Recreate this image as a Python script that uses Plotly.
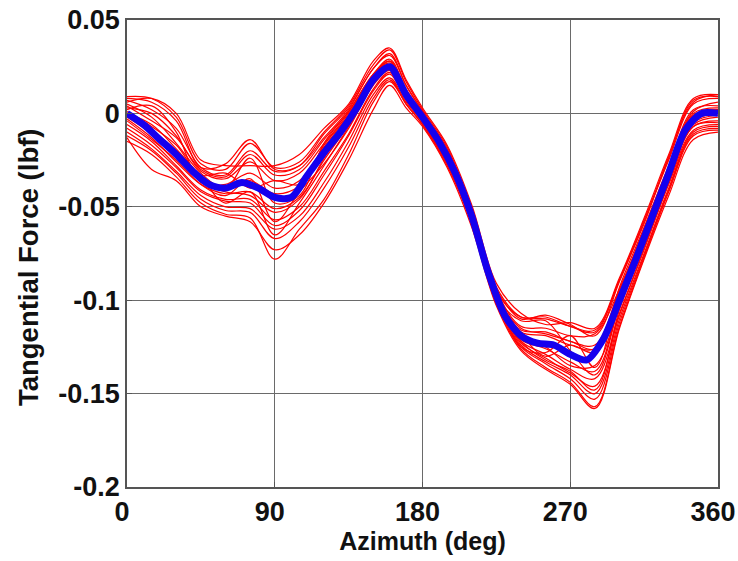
import plotly.graph_objects as go

# Azimuth grid for the individual (red) revolutions
az = [0, 15, 30, 45, 60, 75, 90, 105, 120, 135, 150, 160, 170, 180,
      195, 210, 225, 240, 255, 270, 285, 300, 315, 330, 345, 360]

# Individual revolutions, tangential force (lbf) x 1000
rev01 = [9, 8, -2, -27, -30, -16, -29, -26, -10, 4, 26, 34, 17, 2, -18, -51, -93, -109, -110, -114, -116, -89, -57, -24, 7, 9]
rev02 = [-15, -22, -34, -48, -54, -56, -78, -62, -46, -22, 6, 17, 5, -6, -28, -59, -102, -126, -136, -144, -157, -114, -77, -42, -12, -9]
rev03 = [5, -2, -16, -32, -40, -24, -48, -44, -16, 1, 21, 29, 13, 0, -21, -54, -95, -114, -115, -119, -118, -94, -62, -29, 2, 4]
rev04 = [-6, -15, -28, -41, -46, -46, -57, -50, -31, -11, 13, 22, 8, -4, -26, -57, -100, -122, -129, -137, -142, -107, -72, -37, -7, -4]
rev05 = [2, 4, -10, -37, -38, -32, -40, -36, -18, -1, 20, 27, 11, -1, -22, -53, -96, -117, -119, -124, -126, -95, -63, -30, -1, 2]
rev06 = [-3, -13, -26, -38, -43, -42, -51, -45, -25, -6, 16, 24, 9, -3, -25, -56, -98, -111, -111, -127, -140, -103, -68, -34, -6, -2]
rev07 = [8, 6, -4, -29, -27, -14, -30, -28, -13, 2, 24, 31, 15, 1, -19, -52, -94, -110, -108, -113, -119, -90, -58, -25, 5, 8]
rev08 = [-10, -19, -31, -44, -50, -51, -62, -55, -37, -15, 10, 19, 6, -5, -27, -58, -101, -124, -133, -140, -150, -110, -75, -40, -10, -7]
rev09 = [4, -4, -13, -30, -34, -22, -33, -30, -14, 1, 21, 28, 12, -1, -22, -54, -96, -125, -128, -119, -136, -93, -61, -28, 1, 6]
rev10 = [-1, -9, -20, -36, -40, -36, -43, -39, -22, -4, 18, 25, 10, -2, -23, -55, -97, -118, -130, -124, -128, -101, -67, -33, -4, 0]
rev11 = [-12, -20, -32, -46, -52, -53, -67, -58, -40, -18, 8, 18, 5, -6, -27, -59, -101, -125, -134, -142, -153, -112, -76, -41, -11, -8]
rev12 = [7, 2, -8, -29, -33, -20, -31, -28, -11, 3, 24, 32, 15, 1, -20, -52, -95, -109, -109, -114, -117, -89, -59, -23, 6, 10]
rev13 = [-4, -14, -25, -38, -44, -35, -58, -42, -27, -8, 15, 23, 9, -3, -24, -56, -98, -121, -126, -133, -138, -102, -69, -35, -7, -5]
rev14 = [1, -7, -17, -33, -32, -40, -36, -38, -17, -1, 19, 26, 11, -2, -23, -55, -97, -115, -118, -122, -126, -96, -64, -31, -1, 1]
rev15 = [-8, -17, -29, -42, -47, -48, -60, -52, -33, -12, 12, 21, 7, -4, -26, -57, -100, -123, -131, -139, -146, -108, -73, -38, -9, -6]
rev16 = [3, 0, -12, -31, -35, -26, -36, -32, -16, 0, 20, 28, 12, -1, -21, -54, -96, -116, -117, -122, -124, -94, -63, -29, 0, 3]
rev17 = [-13, -30, -36, -50, -55, -58, -73, -65, -48, -25, 2, 15, 3, -7, -29, -61, -103, -127, -137, -145, -158, -115, -78, -44, -14, -10]
rev18 = [6, 8, 0, -25, -28, -28, -28, -22, -8, 5, 28, 35, 18, 3, -17, -49, -91, -107, -113, -112, -115, -88, -56, -22, 8, 10]
rev19 = [-2, -11, -23, -36, -42, -44, -53, -46, -24, -5, 17, 24, 9, -3, -24, -56, -98, -120, -125, -135, -135, -102, -67, -33, -5, -1]
rev20 = [0, -6, -19, -34, -48, -42, -65, -48, -28, -7, 16, 24, 10, -2, -23, -55, -97, -122, -132, -138, -148, -105, -70, -34, -4, 0]
revs = [rev01, rev02, rev03, rev04, rev05, rev06, rev07, rev08, rev09, rev10,
        rev11, rev12, rev13, rev14, rev15, rev16, rev17, rev18, rev19, rev20]

# Mean (blue) curve
az_mean = [0, 10, 20, 30, 40, 50, 60, 70, 80, 90, 100, 110, 120, 130, 140, 150,
           160, 170, 180, 190, 200, 210, 220, 230, 240, 250, 260, 270, 280, 290,
           300, 310, 320, 330, 340, 350, 360]
mean_force = [0.000, -0.006, -0.014, -0.022, -0.031, -0.038, -0.040, -0.037, -0.040,
              -0.045, -0.045, -0.033, -0.021, -0.010, 0.003, 0.018, 0.025, 0.010,
              -0.002, -0.015, -0.032, -0.055, -0.085, -0.108, -0.119, -0.123, -0.124,
              -0.129, -0.132, -0.121, -0.100, -0.078, -0.055, -0.032, -0.009, 0.000, 0.000]

x_ticks = [0, 90, 180, 270, 360]
y_ticks = [-0.2, -0.15, -0.1, -0.05, 0, 0.05]
y_labels = ["-0.2", "-0.15", "-0.1", "-0.05", "0", "0.05"]
x_title = "Azimuth (deg)"
y_title = "Tangential Force (lbf)"

fig = go.Figure()
for r in revs:
    fig.add_trace(go.Scatter(x=az, y=[v / 1000 for v in r], mode="lines",
                             line=dict(color="#ff0000", width=1.2, shape="spline", smoothing=1.0),
                             showlegend=False, hoverinfo="skip"))
fig.add_trace(go.Scatter(x=az_mean, y=mean_force, mode="lines",
                         line=dict(color="#1500ee", width=7, shape="spline", smoothing=0.8),
                         showlegend=False))

fam = "Arial, Liberation Sans, sans-serif"
tick_font = dict(family=fam, size=27, color="#111111", weight="bold")
title_font = dict(family=fam, size=25, color="#111111", weight="bold")
ytitle_font = dict(family=fam, size=27.5, color="#111111", weight="bold")

fig.update_layout(
    width=738, height=561,
    margin=dict(l=127, r=20, t=20, b=74),
    paper_bgcolor="white", plot_bgcolor="white",
    font=title_font,
    showlegend=False,
    annotations=[dict(text=y_title, textangle=-90, xref="paper", yref="paper",
                      x=-0.1675, y=0.471, xanchor="center", yanchor="middle",
                      showarrow=False, font=ytitle_font)],
)
fig.update_xaxes(range=[0, 360], tickvals=x_ticks, ticktext=[str(t) for t in x_ticks],
                 showgrid=True, gridcolor="#6a6a6a", gridwidth=1,
                 showline=True, linecolor="#555555", linewidth=1.5, mirror=True,
                 ticks="inside", ticklen=5, tickcolor="#555555", automargin=False,
                 zeroline=False, tickfont=tick_font, ticklabeloverflow="allow",
                 ticklabelshift=-5,
                 title=dict(text=x_title, font=title_font, standoff=2))
fig.update_yaxes(range=[-0.2, 0.05], tickvals=y_ticks, ticktext=y_labels,
                 showgrid=True, gridcolor="#6a6a6a", gridwidth=1,
                 showline=True, linecolor="#555555", linewidth=1.5, mirror=True,
                 ticks="inside", ticklen=5, tickcolor="#555555", automargin=False,
                 zeroline=False, tickfont=tick_font)

fig.write_html("out.html")
